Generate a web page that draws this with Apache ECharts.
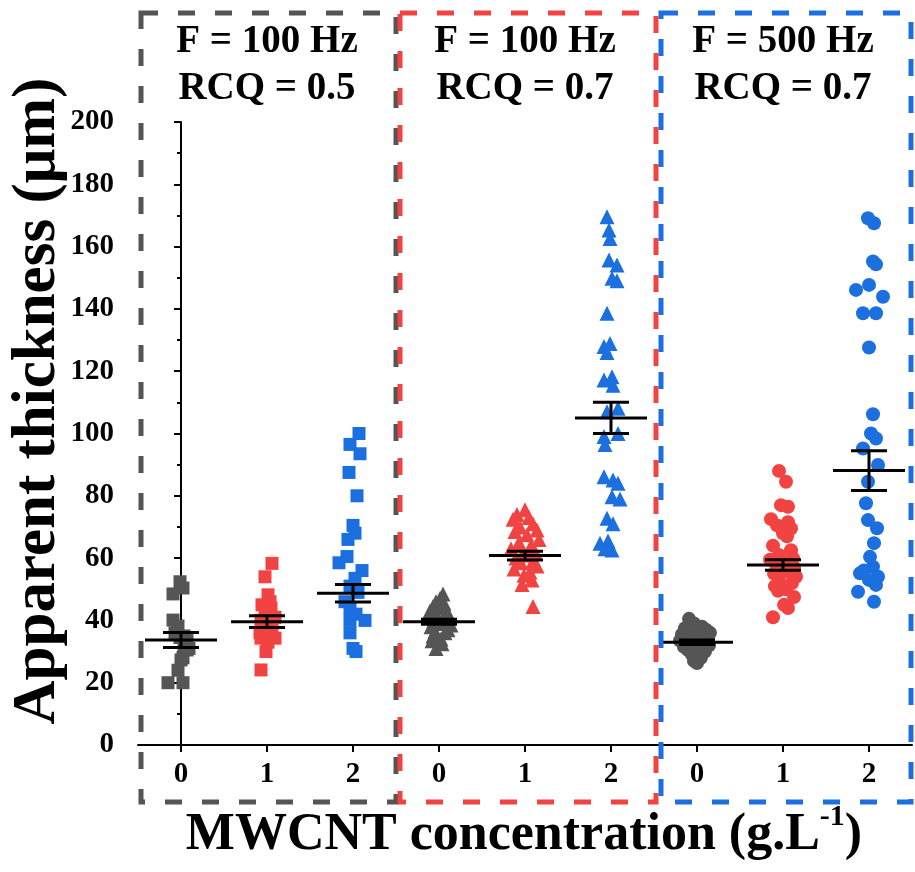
<!DOCTYPE html>
<html>
<head>
<meta charset="utf-8">
<script src="https://cdn.jsdelivr.net/npm/echarts@6/dist/echarts.min.js"></script>
<style>
html,body{margin:0;padding:0;background:#fff;}
#chart{width:915px;height:872px;}
</style>
</head>
<body>
<div id="chart"></div>
<script>
// ---------- DATA ----------
const categories = ['0', '1', '2', '0', '1', '2', '0', '1', '2'];
const panelFreq = ['F = 100 Hz', 'F = 100 Hz', 'F = 500 Hz'];
const panelRcq = ['RCQ = 0.5', 'RCQ = 0.7', 'RCQ = 0.7'];
const yMin = 0, yMax = 200, yStep = 20;
const xTitle = 'MWCNT concentration (g.L';
const xTitleSup = '-1';
const yTitle = 'Apparent thickness (μm)';

// panel 1 (squares)
const p1c0 = [52.4, 50.4, 48.5, 40.1, 38.2, 36, 35, 34.5, 33.5, 32, 31, 30.5, 28, 27.3, 24, 20, 20];
const p1c0j = [-1, 2, -8, -8, -3, -6, 3, -1, 6, 3, 8, 6, 2, 0, -3, -13, 2];
const p1c1 = [58.3, 54, 48.2, 46, 45, 44, 43, 41, 40, 38.5, 37, 36, 34.3, 34.3, 33, 30, 24.1];
const p1c1j = [5, -2, 1, 3, -5, 4, -2, 8, -6, 0, 5, -7, -6, 8, 1, -1, -6];
const p1c2 = [100, 96.5, 93.5, 87.5, 80, 70.5, 68, 66, 60.5, 58.5, 56, 53.5, 51, 49, 46, 44, 42, 40, 40, 36, 31, 30];
const p1c2j = [6, -3, 7, -4, 4, 0, 2, -5, -6, -14, 9, 2, -3, 5, -8, -3, 3, 12, -3, -3, 0, 3];
// panel 2 (triangles)
const p2c0 = [48.5, 47, 46, 45.5, 44.5, 44, 43, 42.5, 42, 41.5, 41, 40.5, 40, 39.5, 39, 38.5, 38, 37, 36.5, 36, 35, 34, 33.5, 32.5, 31];
const p2c0j = [4, 1, -3, 5, -6, 2, -9, 8, -3, 10, -10, 4, -5, 7, -2, 12, -8, 9, -4, 6, -6, 2, -7, 3, -3];
const p2c1 = [75.5, 74, 73, 72.5, 71, 70, 69, 68.5, 67.5, 66, 65, 64, 63, 62, 61.5, 61, 60, 59, 58.5, 57.5, 56.5, 55.5, 54.5, 53, 51.5, 44.5];
const p2c1j = [0, -8, 4, -12, 8, -5, 12, -10, 2, 14, -6, 6, -14, 10, -2, 3, -9, 8, -4, 12, -11, 5, -1, 7, -3, 8];
const p2c2 = [169.6, 165.3, 162.6, 155.7, 154.1, 149.8, 149, 138.6, 128.9, 127.9, 126, 118.2, 117.2, 115.5, 108.1, 107, 100, 99, 96.5, 86.1, 85.1, 84, 79.7, 79, 72.8, 71, 65.5, 64.8, 63, 62.6];
const p2c2j = [-4, -2, -1, -2, 6, 1, 6, -4, -1, -7, -4, 1, -7, 2, 7, -4, 7, -7, -6, -7, 2, 7, 1, 9, -4, 2, -3, -11, -6, 1];
// panel 3 (circles)
const p3c0 = [40.5, 39, 38, 37.5, 37, 36.5, 36, 35.5, 35, 34.5, 34, 33.5, 33, 32.5, 32, 31.5, 31, 30.5, 30, 29, 28, 27, 26.3];
const p3c0j = [-8, -3, 5, -12, 9, -6, 13, -15, 3, -10, 11, -17, 7, -4, 12, -13, 2, -9, 8, -5, 4, -3, 0];
const p3c1 = [88, 84.5, 77, 76.5, 72.5, 71.5, 70.5, 69.5, 68, 67, 64, 62.5, 61, 60, 59.5, 58.5, 58, 57, 56.5, 55.5, 55, 54, 53, 52, 51, 50, 49.5, 47.5, 45, 44, 41];
const p3c1j = [-4, 3, -2, 5, -12, 5, -6, 8, 0, 4, -10, 8, -4, 10, -13, 2, -7, 11, -3, 6, -9, 13, -4, 9, -8, 3, -5, 11, 1, 5, -10];
const p3c2 = [169.1, 167.5, 155.2, 154.3, 147.7, 146.1, 143.9, 138.6, 138.6, 127.6, 106.2, 100, 98.4, 95.2, 89.9, 84.5, 77.6, 72.2, 69.6, 64.8, 60.4, 57.2, 56, 55.1, 54, 53, 51.4, 49.2, 46];
const p3c2j = [-1, 5, 4, 7, 0, -13, 14, -6, 7, 0, 4, 2, 7, -6, 9, -1, -3, -1, 8, 5, 1, 4, -5, -9, 9, 0, 7, -11, 5];

// mean and standard error bars
const means = [33.7, 39.6, 48.7, 39.6, 60.8, 105, 33, 57.8, 88.1];
const errors = [2.4, 1.9, 2.8, 0.8, 1.4, 5, 0.7, 1.7, 6.4];

const groups = [p1c0, p1c1, p1c2, p2c0, p2c1, p2c2, p3c0, p3c1, p3c2];
const jitters = [p1c0j, p1c1j, p1c2j, p2c0j, p2c1j, p2c2j, p3c0j, p3c1j, p3c2j];
const JITTER_UNIT = 1 / 86; // one jitter step as a fraction of a category

// ---------- STYLE ----------
const COLORS = ['#555555', '#F24343', '#1B6FDE'];
const SYMBOLS = ['rect', 'rect', 'rect', 'triangle', 'triangle', 'triangle', 'circle', 'circle', 'circle'];
const SIZES = [13, 13, 13, 15, 15, 15, 14, 14, 14];
const FONT = "'Liberation Serif', 'Times New Roman', serif";

const GRID = { left: 138, top: 122, width: 774, height: 623 };
const PANEL_W = GRID.width / 3;

const chart = echarts.init(document.getElementById('chart'), null, { renderer: 'canvas' });

const series = groups.map((vals, gi) => ({
  type: 'scatter',
  xAxisIndex: 1,
  yAxisIndex: 0,
  symbol: SYMBOLS[gi],
  symbolSize: SIZES[gi],
  itemStyle: { color: COLORS[gi % 3], opacity: 1 },
  z: 2,
  silent: true,
  data: vals.map((v, i) => [gi + jitters[gi][i] * JITTER_UNIT, v])
}));

series.push({
  type: 'custom',
  xAxisIndex: 1,
  yAxisIndex: 0,
  z: 5,
  silent: true,
  data: means.map((m, i) => [i, m, errors[i]]),
  renderItem: function (params, api) {
    const x = api.value(0), m = api.value(1), e = api.value(2);
    const pm = api.coord([x, m]);
    const pt = api.coord([x, m + e]);
    const pb = api.coord([x, m - e]);
    const st = { stroke: '#000', lineWidth: 3 };
    return {
      type: 'group',
      children: [
        { type: 'line', shape: { x1: pm[0] - 36, y1: pm[1], x2: pm[0] + 36, y2: pm[1] }, style: st },
        { type: 'line', shape: { x1: pt[0] - 18, y1: pt[1], x2: pt[0] + 18, y2: pt[1] }, style: st },
        { type: 'line', shape: { x1: pb[0] - 18, y1: pb[1], x2: pb[0] + 18, y2: pb[1] }, style: st },
        { type: 'line', shape: { x1: pt[0], y1: pt[1], x2: pb[0], y2: pb[1] }, style: st }
      ]
    };
  }
});

// panel frames and titles
const frameX = [141, 400, 661];
const frameW = [255, 256, 250];
const graphics = [];
for (let p = 0; p < 3; p++) {
  graphics.push({
    type: 'rect', z: 10, silent: true,
    shape: { x: frameX[p], y: 13, width: frameW[p], height: 789 },
    style: { fill: 'none', stroke: COLORS[p], lineWidth: 5, lineDash: [17, 20] }
  });
  const cx = GRID.left + PANEL_W * p + PANEL_W / 2;
  graphics.push({
    type: 'text', z: 11, silent: true, x: cx, y: 42,
    style: { text: panelFreq[p], font: 'bold 39px ' + FONT, fill: '#000', align: 'center', verticalAlign: 'middle' }
  });
  graphics.push({
    type: 'text', z: 11, silent: true, x: cx, y: 89,
    style: { text: panelRcq[p], font: 'bold 39px ' + FONT, fill: '#000', align: 'center', verticalAlign: 'middle' }
  });
}
graphics.push({
  type: 'text', silent: true, x: 38, y: 401, rotation: Math.PI / 2,
  style: { text: yTitle, font: 'bold 61px ' + FONT, fill: '#000', align: 'center', verticalAlign: 'middle' }
});
graphics.push({
  type: 'text', silent: true, x: 524, y: 832,
  style: {
    text: '{a|' + xTitle + '}{s|' + xTitleSup + '}{a|)}',
    align: 'center', verticalAlign: 'middle',
    rich: {
      a: { fontFamily: FONT, fontWeight: 'bold', fontSize: 52, lineHeight: 60, fill: '#000', color: '#000', verticalAlign: 'bottom' },
      s: { fontFamily: FONT, fontWeight: 'bold', fontSize: 30, lineHeight: 60, fill: '#000', color: '#000', verticalAlign: 'top' }
    }
  }
});

const option = {
  animation: false,
  backgroundColor: '#fff',
  grid: { left: GRID.left, top: GRID.top, width: GRID.width, height: GRID.height, containLabel: false },
  xAxis: [
    {
      type: 'category',
      data: categories,
      boundaryGap: true,
      axisLine: { show: true, lineStyle: { color: '#000', width: 2 } },
      axisTick: { show: true, alignWithLabel: true, length: 7, lineStyle: { color: '#000', width: 2 } },
      axisLabel: { color: '#000', fontFamily: FONT, fontWeight: 'bold', fontSize: 29, margin: 15 },
      splitLine: { show: false }
    },
    {
      type: 'value',
      min: -0.5,
      max: 8.5,
      show: false
    }
  ],
  yAxis: [{
    type: 'value',
    min: yMin, max: yMax, interval: yStep,
    axisLine: { show: true, lineStyle: { color: '#000', width: 2 } },
    axisTick: { show: true, length: 7, lineStyle: { color: '#000', width: 2 } },
    minorTick: { show: true, splitNumber: 2, length: 4, lineStyle: { color: '#000', width: 2 } },
    axisLabel: { color: '#000', fontFamily: FONT, fontWeight: 'bold', fontSize: 29, margin: 24 },
    splitLine: { show: false }
  }],
  graphic: graphics,
  series: series
};
chart.setOption(option);
</script>
</body>
</html>
